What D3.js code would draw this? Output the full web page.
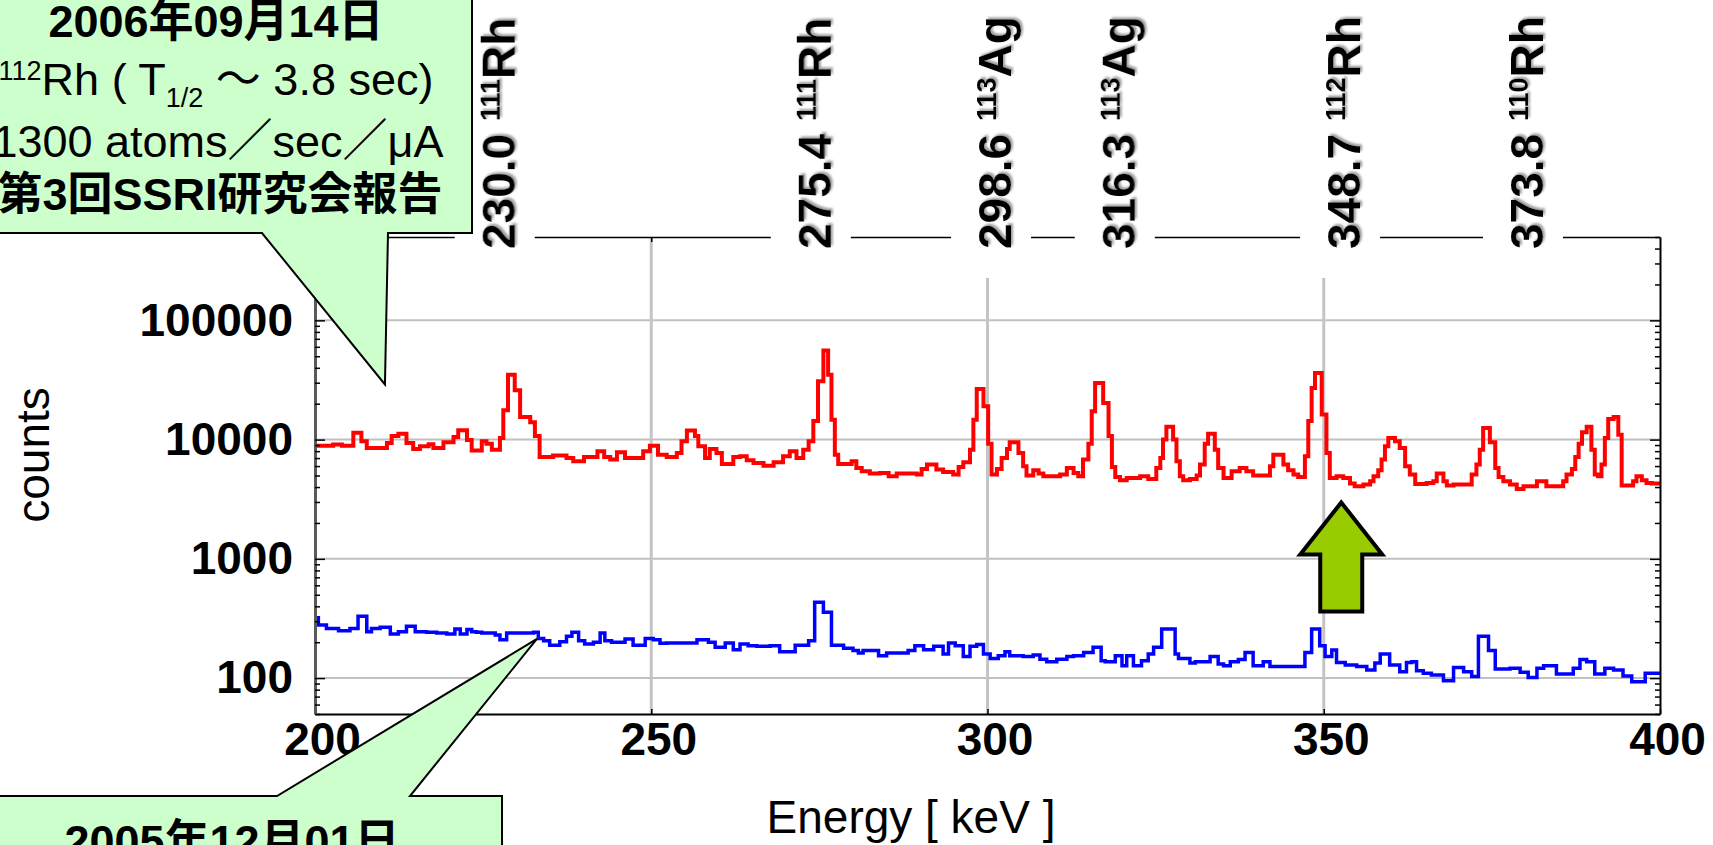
<!DOCTYPE html>
<html>
<head>
<meta charset="utf-8">
<script src="https://cdn.jsdelivr.net/npm/d3@7"></script>
<style>
  html, body { margin: 0; padding: 0; background: #fff; overflow: hidden; }
  svg { display: block; }
  text { font-family: "Liberation Sans", Arial, "Noto Sans CJK JP", sans-serif; }
</style>
</head>
<body>
<div id="chart"></div>
<script>
// ========== DATA ==========
const xTicks = [200, 250, 300, 350, 400];
const xGrid = [250, 300, 350];
const yTicks = [100, 1000, 10000, 100000];
const yLabels = ["100", "1000", "10000", "100000"];

// 2006-09-14 spectrum (red): energy where each step starts, counts of that step
const redEdges = [200.0, 202.7, 204.0, 205.7, 206.9, 207.7, 210.7, 211.4, 212.4, 213.6, 214.6, 215.6, 216.9, 217.6, 219.1,
  220.6, 221.3, 222.6, 223.3, 224.8, 225.5, 226.3, 227.5, 228.0, 228.7, 229.7, 230.5, 232.0, 232.7, 233.4, 235.4, 237.4,
  238.4, 240.0, 242.0, 243.0, 243.9, 244.9, 246.1, 248.8, 249.8, 251.0, 252.3, 253.8, 254.5, 255.3, 256.5, 257.0, 258.0,
  258.7, 259.7, 260.5, 262.2, 263.2, 264.2, 265.2, 266.7, 268.2, 269.6, 270.6, 271.6, 272.6, 273.4, 274.1, 274.8, 275.6,
  276.3, 276.8, 277.3, 277.8, 279.8, 280.5, 281.3, 282.5, 284.0, 285.3, 286.5, 289.5, 290.2, 291.0, 292.4, 293.4, 294.9,
  295.7, 296.4, 297.4, 297.9, 298.4, 299.4, 300.1, 300.6, 301.4, 302.1, 302.9, 303.3, 304.6, 305.3, 305.8, 306.8, 307.6,
  308.3, 310.8, 311.8, 312.8, 313.5, 314.2, 315.0, 315.5, 316.0, 317.2, 318.0, 318.5, 319.0, 319.7, 320.7, 322.7, 323.9,
  325.1, 325.7, 326.1, 326.6, 327.6, 328.1, 328.6, 329.1, 330.1, 331.1, 331.6, 332.3, 332.8, 333.8, 334.3, 335.1, 336.3,
  337.5, 338.5, 339.5, 342.0, 342.5, 344.0, 344.7, 345.5, 346.2, 347.2, 347.7, 348.2, 348.7, 349.7, 350.4, 350.9, 351.9,
  352.9, 353.9, 354.6, 355.9, 356.9, 357.4, 358.1, 358.6, 359.1, 359.6, 360.6, 361.3, 362.1, 362.8, 363.6, 365.3, 366.3,
  366.8, 367.8, 368.3, 369.3, 372.0, 372.7, 373.2, 373.7, 374.7, 375.5, 376.0, 376.7, 377.7, 378.7, 379.7, 381.7, 383.1,
  385.6, 386.1, 386.9, 387.4, 387.9, 388.4, 389.1, 389.8, 390.3, 390.8, 391.3, 391.8, 392.3, 393.1, 393.8, 394.3, 396.0,
  396.5, 397.3, 398.0, 398.8];
const redCounts = [8900, 9100, 8900, 11400, 9700, 8500, 9350, 10700, 11200, 9350, 8350, 8800, 9150, 8500, 9500,
  10500, 12000, 9900, 8100, 9700, 9250, 8240, 10300, 17600, 35000, 25900, 15500, 14000, 10700, 7160, 7340, 7020,
  6580, 7160, 7980, 7160, 6800, 7850, 7020, 7980, 8900, 7480, 7160, 7730, 9700, 11900, 10700, 8800, 7020,
  8350, 7730, 6250, 7160, 7250, 6710, 6370, 6050, 6460, 7250, 7980, 7020, 8240, 9700, 14300, 30800, 56000,
  35000, 14700, 7480, 6250, 6580, 5790, 5430, 5190, 5260, 4930, 5190, 5090, 5680, 6170, 5610, 5360, 5090,
  5900, 6460, 8240, 14700, 26600, 19000, 9250, 5090, 5680, 7020, 8350, 9500, 7730, 5980, 4990, 5530, 5190,
  4930, 5090, 5790, 5260, 4930, 6800, 9250, 17300, 29900, 20300, 10700, 5900, 4860, 4560, 4770, 4930, 4680,
  5790, 7020, 10000, 12800, 10000, 6580, 4930, 4560, 4680, 4990, 6170, 9250, 11200, 8240, 5790, 4770, 5430,
  5790, 5430, 4990, 5980, 7480, 6170, 5530, 5090, 4860, 7250, 14300, 27100, 36200, 16200, 7730, 4770, 4930,
  4770, 4280, 4060, 4200, 4480, 4930, 5530, 6800, 8790, 10300, 9700, 8510, 5980, 5090, 4250, 4330, 4480,
  5190, 4480, 4120, 4200, 5090, 6170, 8240, 12500, 9500, 5790, 4860, 4480, 4200, 3860, 4060, 4480, 4060,
  4480, 5090, 5680, 7160, 9250, 11500, 12800, 8240, 5090, 4930, 6170, 10300, 14900, 15500, 11000, 4120, 4480,
  4930, 4560, 4330, 4280];

// 2005-12-01 spectrum (blue)
const blueEdges = [200.0, 200.5, 201.7, 203.5, 205.2, 206.4, 207.7, 208.4, 209.7, 211.2, 212.4, 213.6, 214.9, 216.6,
  218.1, 219.6, 220.8, 221.6, 222.6, 223.3, 224.0, 224.8, 226.8, 227.5, 228.5, 232.5, 233.2, 234.0, 234.9, 236.4,
  237.4, 238.2, 239.2, 240.1, 241.4, 242.4, 243.1, 244.1, 246.1, 247.3, 249.1, 250.3, 251.3, 252.3, 256.8, 258.5,
  259.5, 261.0, 262.2, 263.2, 264.4, 265.7, 267.7, 269.1, 271.4, 273.4, 274.3, 275.6, 276.8, 278.6, 280.0, 280.8,
  281.5, 283.8, 285.0, 288.2, 289.2, 290.5, 292.0, 293.4, 294.2, 295.2, 296.4, 297.4, 298.4, 299.4, 300.4, 301.6,
  302.6, 303.3, 305.3, 306.8, 307.8, 308.8, 310.3, 311.8, 312.8, 314.3, 315.7, 316.9, 317.5, 319.0, 320.0, 320.7,
  321.7, 322.9, 323.9, 324.7, 325.9, 327.9, 328.4, 330.1, 330.9, 333.1, 334.3, 335.1, 336.1, 337.3, 338.3, 339.5,
  341.0, 342.0, 347.2, 348.2, 349.4, 350.2, 351.2, 351.9, 353.2, 354.9, 356.4, 357.6, 358.4, 359.8, 361.3, 362.3,
  363.1, 363.8, 364.8, 366.0, 367.8, 369.3, 370.8, 372.0, 373.0, 374.5, 375.5, 377.7, 379.2, 380.4, 381.7, 382.7,
  384.6, 387.1, 388.1, 389.1, 390.3, 391.8, 393.1, 394.5, 395.8, 397.8];
const blueCounts = [320, 279, 261, 250, 261, 330, 245, 261, 267, 234, 245, 272, 245, 242,
  239, 234, 258, 234, 255, 245, 242, 239, 230, 210, 239, 242, 215, 206, 189, 202,
  224, 242, 206, 193, 200, 239, 206, 200, 213, 189, 215, 210, 196, 197, 210, 200,
  181, 197, 173, 193, 187, 185, 187, 166, 189, 206, 432, 356, 189, 178, 170, 162,
  170, 154, 162, 170, 187, 173, 185, 159, 197, 187, 152, 185, 191, 159, 146, 154,
  166, 154, 152, 156, 144, 137, 144, 152, 154, 164, 181, 140, 137, 154, 127, 154,
  127, 140, 159, 181, 258, 159, 146, 134, 137, 152, 131, 127, 137, 143, 164, 127,
  137, 125, 164, 258, 187, 152, 172, 135, 129, 125, 117, 134, 159, 129, 113, 135,
  137, 115, 110, 106, 95, 123, 113, 103, 224, 170, 119, 121, 112, 101, 121, 127,
  108, 121, 143, 137, 108, 121, 117, 104, 93, 110];

// peak labels along the top
const peakEnergy = ["230.0", "275.4", "298.6", "316.3", "348.7", "373.8"];
const peakMass = ["111", "111", "113", "113", "112", "110"];
const peakElement = ["Rh", "Rh", "Ag", "Ag", "Rh", "Rh"];
const peakLabelAt = [229.7, 276.7, 303.5, 321.9, 355.4, 382.6];

// annotations
const newNote = ["2006年09月14日", "1300 atoms／sec／μA", "第3回SSRI研究会報告"];
const oldNote = ["2005年12月01日"];
const newNoteTip = [210.4, 29000];
const oldNoteTip = [233.0, 213];
const arrowTip = [352.6, 2970];

// ========== CHART ==========
const width = 1713, height = 845;
const plot = { left: 315, right: 1660, top: 237, bottom: 714 };

const svg = d3.select("#chart").append("svg")
  .attr("width", width)
  .attr("height", height)
  .attr("viewBox", `0 0 ${width} ${height}`);

const defs = svg.append("defs");
defs.append("clipPath").attr("id", "plot-clip")
  .append("rect")
  .attr("x", plot.left).attr("y", plot.top)
  .attr("width", plot.right - plot.left).attr("height", plot.bottom - plot.top);
defs.append("filter").attr("id", "shadow")
  .attr("x", "-20%").attr("y", "-20%").attr("width", "140%").attr("height", "140%")
  .append("feDropShadow")
  .attr("dx", 2).attr("dy", 2).attr("stdDeviation", 1)
  .attr("flood-color", "#888").attr("flood-opacity", 0.8);

const x = d3.scaleLinear().domain([200, 400]).range([plot.left, plot.right]);
const y = d3.scaleLog().domain([50, 500000]).range([plot.bottom, plot.top]);
const yMinor = y.ticks().filter(d => !yTicks.includes(d));

// grid
const grid = svg.append("g").attr("class", "grid");
grid.selectAll(".hgrid").data(yTicks).join("line")
  .attr("x1", plot.left).attr("x2", plot.right)
  .attr("y1", d => y(d)).attr("y2", d => y(d))
  .style("stroke", "#c0c0c0").style("stroke-width", 2);
grid.selectAll(".vgrid").data(xGrid).join("line")
  .attr("x1", d => x(d)).attr("x2", d => x(d))
  .attr("y1", plot.top).attr("y2", plot.bottom)
  .style("stroke", "#c4c4c4").style("stroke-width", 3);

// spectra
function stepPoints(edges, counts) {
  const pts = edges.map((e, i) => [e, counts[i]]);
  pts.push([400, counts[counts.length - 1]]);
  return pts;
}

const stepLine = d3.line()
  .x(d => x(d[0]))
  .y(d => y(d[1]))
  .curve(d3.curveStepAfter);

const traces = svg.append("g").attr("clip-path", "url(#plot-clip)");
traces.append("path")
  .attr("d", stepLine(stepPoints(blueEdges, blueCounts)))
  .style("fill", "none").style("stroke", "#0000ff").style("stroke-width", 3.5);
traces.append("path")
  .attr("d", stepLine(stepPoints(redEdges, redCounts)))
  .style("fill", "none").style("stroke", "#ff0000").style("stroke-width", 4);

// ========== AXES ==========
function styleAxis(g, domainColor, domainWidth) {
  g.select(".domain").style("stroke", domainColor).style("stroke-width", domainWidth);
  g.selectAll(".tick line").style("stroke", "#000").style("stroke-width", 1.5);
}

const bottomAxis = svg.append("g")
  .attr("transform", `translate(0, ${plot.bottom})`)
  .call(d3.axisBottom(x).tickValues(xTicks).tickSize(-5).tickSizeOuter(0).tickPadding(8).tickFormat(d3.format("d")));
styleAxis(bottomAxis, "#000", 2);
bottomAxis.selectAll(".tick text")
  .attr("dx", 7)
  .style("font-size", "46px").style("font-weight", "bold").style("fill", "#000");

const topAxis = svg.append("g")
  .attr("transform", `translate(0, ${plot.top})`)
  .call(d3.axisTop(x).tickValues(xGrid).tickSize(-5).tickSizeOuter(0).tickFormat(""));
styleAxis(topAxis, "#000", 1.5);

const leftAxis = svg.append("g")
  .attr("transform", `translate(${plot.left}, 0)`)
  .call(d3.axisLeft(y).tickValues(yTicks).tickSize(-10).tickSizeOuter(0).tickPadding(22)
    .tickFormat((d, i) => yLabels[i]));
styleAxis(leftAxis, "#5a5a5a", 3);
leftAxis.selectAll(".tick text")
  .style("font-size", "46px").style("font-weight", "bold").style("fill", "#000");

const leftMinor = svg.append("g")
  .attr("transform", `translate(${plot.left}, 0)`)
  .call(d3.axisLeft(y).tickValues(yMinor).tickSize(-5).tickSizeOuter(0).tickFormat(""));
styleAxis(leftMinor, "none", 0);

const rightAxis = svg.append("g")
  .attr("transform", `translate(${plot.right}, 0)`)
  .call(d3.axisRight(y).tickValues(yTicks).tickSize(-10).tickSizeOuter(0).tickFormat(""));
styleAxis(rightAxis, "#000", 2);

const rightMinor = svg.append("g")
  .attr("transform", `translate(${plot.right}, 0)`)
  .call(d3.axisRight(y).tickValues(yMinor).tickSize(-5).tickSizeOuter(0).tickFormat(""));
styleAxis(rightMinor, "none", 0);

svg.append("text")
  .attr("x", 911).attr("y", 833)
  .style("text-anchor", "middle")
  .style("font-size", "46px")
  .text("Energy [ keV ]");

svg.append("text")
  .attr("transform", "translate(49, 455) rotate(-90)")
  .style("text-anchor", "middle")
  .style("font-size", "46px")
  .text("counts");

// ========== PEAK LABELS ==========
const labels = svg.append("g").attr("class", "peak-labels");
peakLabelAt.forEach((e, i) => {
  const bx = x(e);
  labels.append("rect")
    .attr("x", bx - 60).attr("y", 0)
    .attr("width", 80).attr("height", 278)
    .style("fill", "#fff");

  const t = labels.append("text")
    .attr("transform", `translate(${bx}, 249) rotate(-90)`)
    .attr("filter", "url(#shadow)")
    .style("font-weight", "bold")
    .style("font-size", "46px")
    .style("fill", "#000");
  t.append("tspan").text(peakEnergy[i] + " ");
  t.append("tspan").attr("dy", -15).style("font-size", "27px").text(peakMass[i]);
  t.append("tspan").attr("dy", 15).text(peakElement[i]);
});

// ========== ARROW ==========
const [ax, ay] = [x(arrowTip[0]), y(arrowTip[1])];
const arrowShape = [[0, 0], [41, 52], [21, 52], [21, 109], [-21, 109], [-21, 52], [-41, 52]];
svg.append("path")
  .attr("d", d3.line()(arrowShape.map(p => [ax + p[0], ay + p[1]])) + "Z")
  .style("fill", "#99cc00")
  .style("stroke", "#000")
  .style("stroke-width", 4)
  .style("stroke-linejoin", "miter");

// ========== CALLOUTS ==========
function drawCallout(points, fill) {
  svg.append("path")
    .attr("d", d3.line()(points) + "Z")
    .style("fill", fill)
    .style("stroke", "#000")
    .style("stroke-width", 2);
}

const tip1 = [x(newNoteTip[0]), y(newNoteTip[1])];
drawCallout([[-5, -5], [472, -5], [472, 233], [388, 233], tip1, [262, 233], [-5, 233]], "#ccffcc");

const note1 = svg.append("g").style("text-anchor", "middle").style("fill", "#000");
note1.append("text").attr("x", 216).attr("y", 37)
  .style("font-size", "45px").style("font-weight", "bold")
  .text(newNote[0]);
const l2 = note1.append("text").attr("x", 216).attr("y", 95).style("font-size", "45px");
l2.append("tspan").attr("dy", -15).style("font-size", "27px").text("112");
l2.append("tspan").attr("dy", 15).text("Rh ( T");
l2.append("tspan").attr("dy", 12).style("font-size", "27px").text("1/2");
l2.append("tspan").attr("dy", -12).text(" ～ 3.8 sec)");
note1.append("text").attr("x", 218).attr("y", 157)
  .style("font-size", "45px")
  .style("font-feature-settings", "'palt'")
  .text(newNote[1]);
note1.append("text").attr("x", 220).attr("y", 210)
  .style("font-size", "45px").style("font-weight", "bold")
  .text(newNote[2]);

const tip2 = [x(oldNoteTip[0]), y(oldNoteTip[1])];
drawCallout([[-5, 796], [277, 796], tip2, [410, 796], [502, 796], [502, 860], [-5, 860]], "#ccffcc");
svg.append("text").attr("x", 232).attr("y", 857)
  .style("text-anchor", "middle")
  .style("font-size", "45px").style("font-weight", "bold")
  .text(oldNote[0]);
</script>
</body>
</html>
